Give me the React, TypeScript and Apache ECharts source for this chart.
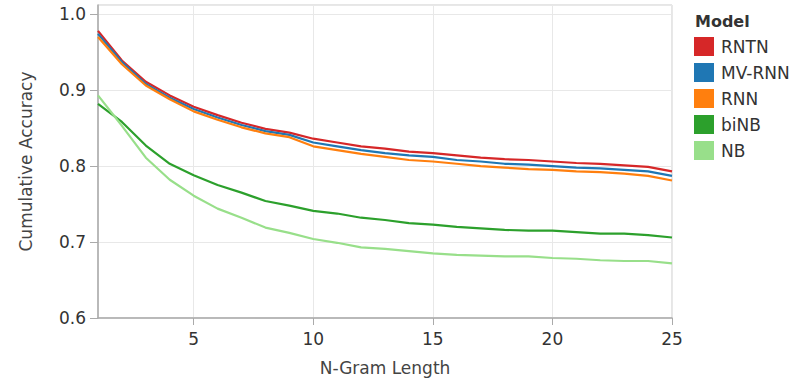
import React, { useEffect, useRef } from "react";
import * as echarts from "echarts";

const nGram = [1,2,3,4,5,6,7,8,9,10,11,12,13,14,15,16,17,18,19,20,21,22,23,24,25];
const seriesNames = ["RNTN", "MV-RNN", "RNN", "biNB", "NB"];
const colors = ["#d62728", "#1f77b4", "#ff7f0e", "#2ca02c", "#98df8a"];
const rntn = [0.978,0.939,0.911,0.893,0.878,0.867,0.857,0.849,0.844,0.836,0.831,0.826,0.823,0.819,0.817,0.814,0.811,0.809,0.808,0.806,0.804,0.803,0.801,0.799,0.793];
const mvrnn = [0.974,0.937,0.908,0.890,0.875,0.864,0.854,0.846,0.841,0.831,0.826,0.821,0.817,0.814,0.812,0.808,0.806,0.803,0.802,0.800,0.798,0.797,0.795,0.793,0.787];
const rnn = [0.970,0.934,0.906,0.888,0.872,0.861,0.851,0.843,0.838,0.826,0.821,0.816,0.812,0.808,0.806,0.803,0.800,0.798,0.796,0.795,0.793,0.792,0.790,0.787,0.781];
const binb = [0.882,0.858,0.827,0.803,0.788,0.775,0.765,0.754,0.748,0.741,0.7375,0.732,0.729,0.725,0.723,0.720,0.718,0.716,0.715,0.715,0.713,0.711,0.711,0.709,0.706];
const nb = [0.893,0.853,0.811,0.782,0.761,0.744,0.732,0.719,0.712,0.704,0.699,0.693,0.691,0.688,0.685,0.683,0.682,0.681,0.681,0.679,0.678,0.676,0.675,0.675,0.672];
const allValues = [rntn, mvrnn, rnn, binb, nb];

const FONT = "DejaVu Sans";

export default function App() {
  const ref = useRef<HTMLDivElement>(null);
  useEffect(() => {
    if (!ref.current) return;
    const chart = echarts.init(ref.current, undefined, { renderer: "svg" });
    chart.setOption({
      animation: false,
      backgroundColor: "#fff",
      textStyle: { fontFamily: FONT },
      title: {
        text: "Model",
        left: 690,
        top: 8,
        textStyle: { fontFamily: FONT, fontSize: 16, fontWeight: "bold", color: "#333" },
      },
      legend: {
        orient: "vertical",
        left: 689,
        top: 32,
        itemWidth: 20,
        itemHeight: 19,
        itemGap: 7,
        icon: "rect",
        data: seriesNames,
        textStyle: { fontFamily: FONT, fontSize: 17, color: "#333", lineHeight: 19, padding: [0, 0, 0, 2] },
      },
      grid: {
        left: 98,
        right: 120,
        top: 5,
        bottom: 63,
        show: true,
        borderColor: "#ccc",
        borderWidth: 1,
      },
      xAxis: {
        type: "value",
        min: 1,
        max: 25,
        splitNumber: 5,
        name: "N-Gram Length",
        nameLocation: "middle",
        nameGap: 41,
        nameTextStyle: { fontFamily: FONT, fontSize: 17, color: "#444" },
        axisLine: { show: true, lineStyle: { color: "#aaa", width: 1.5 } },
        axisTick: { show: true, length: 7, lineStyle: { color: "#aaa" } },
        axisLabel: {
          fontFamily: FONT,
          fontSize: 17,
          color: "#333",
          margin: 12,
          showMinLabel: false,
          formatter: (v: number) => (v % 5 === 0 ? String(v) : ""),
        },
        splitLine: { show: true, lineStyle: { color: "#e8e8e8" } },
      },
      yAxis: {
        type: "value",
        min: 0.6,
        max: 1.012,
        interval: 0.1,
        name: "Cumulative Accuracy",
        nameLocation: "middle",
        nameGap: 64,
        nameTextStyle: { fontFamily: FONT, fontSize: 17, color: "#444" },
        axisLine: { show: true, lineStyle: { color: "#aaa", width: 1.5 } },
        axisTick: { show: true, length: 8, lineStyle: { color: "#aaa" } },
        axisLabel: {
          fontFamily: FONT,
          fontSize: 17,
          color: "#333",
          margin: 12,
          showMaxLabel: false,
          formatter: (v: number) => v.toFixed(1),
        },
        splitLine: { show: true, lineStyle: { color: "#e8e8e8" } },
      },
      series: seriesNames.map((name, i) => ({
        name,
        type: "line",
        showSymbol: false,
        symbol: "none",
        color: colors[i],
        lineStyle: { width: 2.2, color: colors[i] },
        data: nGram.map((x, j) => [x, allValues[i][j]]),
      })),
    });
    return () => chart.dispose();
  }, []);
  return <div ref={ref} style={{ width: 792, height: 381, position: "absolute", left: 0, top: 0 }} />;
}
